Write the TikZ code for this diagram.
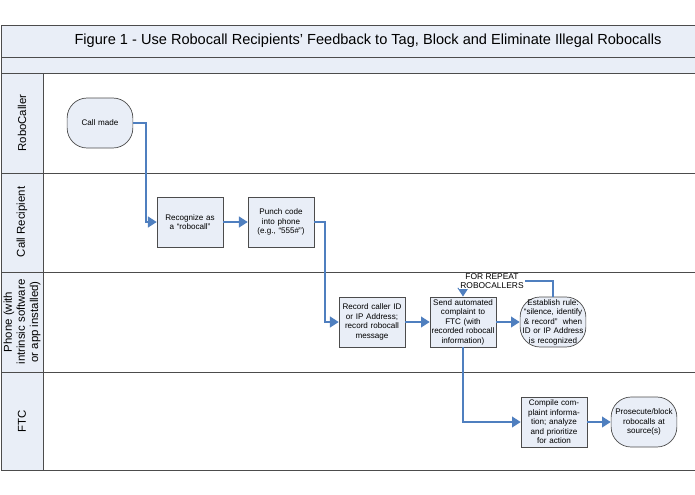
\documentclass[tikz,border=0pt]{standalone}
\usepackage{fontspec}
\setmainfont{Liberation Sans}
\usetikzlibrary{arrows.meta}
\definecolor{lane}{HTML}{E9EEF7}
\definecolor{flow}{HTML}{4F7FBF}
\begin{document}
\begin{tikzpicture}[x=0.02cm,y=-0.02cm,
    proc/.style={draw=black!70,fill=lane,minimum width=1.3cm,minimum height=1cm,
        text width=1.28cm,align=center,inner sep=0.5pt,font=\fontsize{4.6}{5.4}\selectfont},
    term/.style={proc,rounded corners=0.4cm},
    flw/.style={draw=flow,line width=1.4pt,-{Triangle[length=5pt,width=6pt]}},
    lanelbl/.style={rotate=90,font=\fontsize{6.5}{7.5}\selectfont,align=center}]
    \useasboundingbox (0,0) rectangle (695,494);
    % the lanes
    \fill[lane] (1,25) rectangle (695,73);
    \fill[lane] (1,73) rectangle (43,470);
    \draw[black!70] (1,25) rectangle (695,470);
    \foreach \yy in {57,73,173,272,372} \draw[black!70] (1,\yy) -- (695,\yy);
    \draw[black!70] (43,73) -- (43,470);
    \node[font=\fontsize{8.3}{10}\selectfont] (title) at (368,41)
        {Figure 1 - Use Robocall Recipients’ Feedback to Tag, Block and Eliminate Illegal Robocalls};
    \node[lanelbl] (lrc) at (22,123) {RoboCaller};
    \node[lanelbl] (lcr) at (22,222) {Call Recipient};
    \node[lanelbl] (lph) at (22,322) {Phone (with\\intrinsic software\\or app installed)};
    \node[lanelbl] (lftc) at (22,421) {FTC};
    % the steps
    \node[term] (made) at (100,123) {Call made};
    \node[proc] (recog) at (190,222) {Recognize as a ``robocall''};
    \node[proc] (punch) at (281,222) {Punch code into phone (e.g., ``555\#'')};
    \node[proc] (record) at (372,322) {Record caller ID or IP Address; record robocall message};
    \node[proc] (send) at (463,322) {Send automated complaint to FTC (with recorded robocall information)};
    \node[term] (rule) at (553,322) {Establish rule: ``silence, identify \& record''\ \ when ID or IP Address is recognized};
    \node[proc] (compile) at (554,422) {Compile complaint information; analyze and prioritize for action};
    \node[term] (pros) at (644,422) {Prosecute/block robocalls at source(s)};
    \coordinate (loop) at (492,281);

    \draw[flw] (made.east) -| ++(13,0) |- (recog.west);
    \draw[flw] (recog) -- (punch);
    \draw[flw] (punch.east) -| ++(11,0) |- (record.west);
    \draw[flw] (record) -- (send);
    \draw[flw] (send) -- (rule);
    \draw[flw] (rule.north) |- (loop) -| (send.north);
    \node[fill=white,inner sep=0.5pt,align=center,font=\fontsize{4.8}{5.2}\selectfont]
        (repeat) at (loop) {FOR REPEAT\\ROBOCALLERS};
    \draw[flw] (send.south) |- (compile.west);
    \draw[flw] (compile) -- (pros);
\end{tikzpicture}
\end{document}
